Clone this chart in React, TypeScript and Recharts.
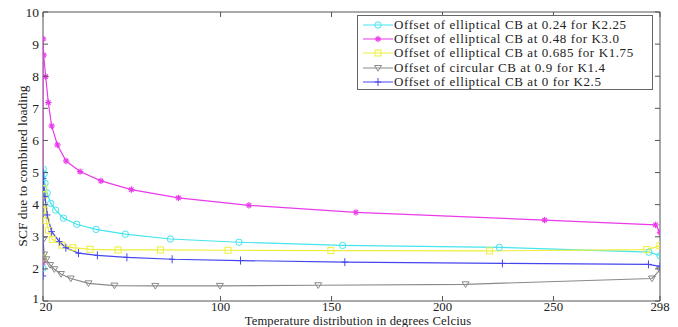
import { LineChart, Line, XAxis, YAxis, ReferenceArea } from "recharts";

const xTicks = [20, 100, 150, 200, 250, 298];
const yTicks = [1, 2, 3, 4, 5, 6, 7, 8, 9, 10];

// Offset of elliptical CB at 0.24 for K2.25
const cyanX = [20, 20.1, 20.5, 20.9, 21.9, 23.5, 25.7, 29.2, 35.2, 43.9, 57.1, 77.4, 108.3, 155, 225.6, 293, 298];
const cyanY = [2.02, 5.11, 4.96, 4.67, 4.36, 4.04, 3.83, 3.58, 3.39, 3.23, 3.08, 2.93, 2.83, 2.73, 2.67, 2.52, 2.41];

// Offset of elliptical CB at 0.48 for K3.0
const magentaX = [20, 20.05, 20.3, 21.2, 22.4, 23.9, 26.5, 30.4, 36.7, 46.1, 59.8, 81, 112.8, 161, 246, 296, 298];
const magentaY = [2.2, 9.16, 8.66, 7.99, 7.18, 6.45, 5.86, 5.36, 5.03, 4.74, 4.47, 4.21, 3.98, 3.76, 3.52, 3.37, 3.14];

// Offset of elliptical CB at 0.685 for K1.75
const yellowX = [20, 20.1, 20.3, 20.6, 21.5, 22.5, 24.2, 28.5, 33.4, 41.2, 53.8, 72.9, 103.4, 149.7, 221.2, 292, 298];
const yellowY = [2.34, 4.5, 4.3, 3.83, 3.5, 3.2, 2.92, 2.74, 2.66, 2.61, 2.59, 2.59, 2.58, 2.57, 2.56, 2.6, 2.72];

// Offset of circular CB at 0.9 for K1.4
const grayX = [20, 20.1, 20.5, 21.5, 23.2, 25.1, 28.1, 32.5, 40.5, 52.2, 70.6, 99.7, 144, 210.4, 294.4, 298];
const grayY = [2.25, 2.9, 2.45, 2.3, 2.12, 1.99, 1.84, 1.7, 1.55, 1.48, 1.47, 1.47, 1.49, 1.52, 1.7, 1.97];

// Offset of elliptical CB at 0 for K2.5
const blueX = [20, 20.05, 20.1, 20.9, 21.9, 23.9, 27.4, 30.3, 36, 44.5, 57.8, 78.2, 109, 156, 227, 292.8, 298];
const blueY = [1.78, 5.0, 4.82, 4.25, 3.68, 3.16, 2.85, 2.66, 2.49, 2.42, 2.36, 2.3, 2.26, 2.21, 2.17, 2.14, 2.08];

const toPoints = (xs: number[], ys: number[]) => xs.map((x, i) => ({ x, y: ys[i] }));

type Kind = "circle" | "star" | "square" | "tri" | "plus";

const series: { name: string; color: string; kind: Kind; data: { x: number; y: number }[] }[] = [
  { name: "Offset of elliptical CB at 0.24 for K2.25", color: "#45e4ee", kind: "circle", data: toPoints(cyanX, cyanY) },
  { name: "Offset of elliptical CB at 0.48 for K3.0", color: "#ea3aea", kind: "star", data: toPoints(magentaX, magentaY) },
  { name: "Offset of elliptical CB at 0.685 for K1.75", color: "#eeee3a", kind: "square", data: toPoints(yellowX, yellowY) },
  { name: "Offset of circular CB at 0.9 for K1.4", color: "#8a8a8a", kind: "tri", data: toPoints(grayX, grayY) },
  { name: "Offset of elliptical CB at 0 for K2.5", color: "#4646ee", kind: "plus", data: toPoints(blueX, blueY) },
];

const FONT = "'Liberation Serif', 'Times New Roman', serif";
const AXIS = "#555";
const PLOT = { left: 43, right: 660, top: 12, bottom: 301 };

function Marker({ kind, cx, cy, color }: { kind: Kind; cx: number; cy: number; color: string }) {
  const s = 3.2;
  switch (kind) {
    case "circle":
      return <circle cx={cx} cy={cy} r={3.2} fill="none" stroke={color} strokeWidth={1} />;
    case "square":
      return <rect x={cx - 3} y={cy - 3} width={6} height={6} fill="none" stroke={color} strokeWidth={1} />;
    case "tri":
      return (
        <polygon
          points={`${cx - 3.5},${cy - 2.5} ${cx + 3.5},${cy - 2.5} ${cx},${cy + 3.2}`}
          fill="none"
          stroke={color}
          strokeWidth={1}
        />
      );
    case "star":
      return (
        <g stroke={color} strokeWidth={1.2}>
          <line x1={cx - s} y1={cy} x2={cx + s} y2={cy} />
          <line x1={cx} y1={cy - s} x2={cx} y2={cy + s} />
          <line x1={cx - 2.2} y1={cy - 2.2} x2={cx + 2.2} y2={cy + 2.2} />
          <line x1={cx - 2.2} y1={cy + 2.2} x2={cx + 2.2} y2={cy - 2.2} />
        </g>
      );
    default:
      return (
        <g stroke={color} strokeWidth={1}>
          <line x1={cx - s} y1={cy} x2={cx + s} y2={cy} />
          <line x1={cx} y1={cy - 4} x2={cx} y2={cy + 4} />
        </g>
      );
  }
}

function YTick({ x, y, payload }: any) {
  return (
    <g>
      <text x={x} y={y} dy={payload.value === 1 ? 2 : 4.5} textAnchor="end" fontFamily={FONT} fontSize={13.5} fill="#222">
        {payload.value}
      </text>
      <line x1={PLOT.left} x2={PLOT.left + 5} y1={y} y2={y} stroke={AXIS} />
      <line x1={PLOT.right - 5} x2={PLOT.right} y1={y} y2={y} stroke={AXIS} />
    </g>
  );
}

function XTick({ x, y, payload }: any) {
  const shift = payload.value === 20 ? 3 : 0;
  return (
    <g>
      <text x={x + shift} y={y + 8} textAnchor="middle" fontFamily={FONT} fontSize={12.8} fill="#222">
        {payload.value}
      </text>
      <line x1={x} x2={x} y1={PLOT.bottom} y2={PLOT.bottom - 5} stroke={AXIS} />
      <line x1={x} x2={x} y1={PLOT.top} y2={PLOT.top + 5} stroke={AXIS} />
    </g>
  );
}

function LegendBox() {
  return (
    <div
      style={{
        position: "absolute",
        left: 357,
        top: 15,
        width: 296,
        height: 75,
        border: "1px solid #666",
        background: "#fff",
        boxSizing: "border-box",
        paddingTop: 2,
        fontFamily: FONT,
        fontSize: 13,
        letterSpacing: 0.6,
        color: "#222",
      }}
    >
      {series.map((s) => (
        <div key={s.name} style={{ display: "flex", alignItems: "center", height: 14.2, lineHeight: "14px", whiteSpace: "nowrap" }}>
          <svg width={36} height={12} style={{ marginLeft: 4, flex: "none" }}>
            <line x1={1} x2={31} y1={6} y2={6} stroke={s.color} strokeWidth={1} />
            <Marker kind={s.kind} cx={16} cy={6} color={s.color} />
          </svg>
          <span style={{ marginLeft: -4 }}>{s.name}</span>
        </div>
      ))}
    </div>
  );
}

export default function App() {
  return (
    <div style={{ position: "relative", width: 678, height: 327, background: "#fff" }}>
      <style>{`body{margin:0}`}</style>
      <LineChart width={678} height={327} margin={{ top: 12, right: 18, bottom: 0, left: 0 }}>
        <XAxis
          type="number"
          dataKey="x"
          domain={[20, 298]}
          ticks={xTicks}
          allowDataOverflow
          height={26}
          tickSize={0}
          tickMargin={2}
          tick={<XTick />}
          axisLine={false}
          tickLine={false}
        />
        <YAxis
          type="number"
          dataKey="y"
          domain={[1, 10]}
          ticks={yTicks}
          allowDataOverflow
          width={43}
          tickSize={0}
          tickMargin={4}
          tick={<YTick />}
          axisLine={false}
          tickLine={false}
        />
        <ReferenceArea x1={20} x2={298} y1={1} y2={10} fill="none" stroke={AXIS} strokeWidth={1} ifOverflow="extendDomain" />
        {series.map((s) => (
          <Line
            key={s.name}
            data={s.data}
            dataKey="y"
            type="linear"
            stroke={s.color}
            strokeWidth={1.2}
            isAnimationActive={false}
            dot={(p: any) => <Marker key={`${s.name}-${p.index}`} kind={s.kind} cx={p.cx} cy={p.cy} color={s.color} />}
            activeDot={false}
          />
        ))}
        <text
          x={27}
          y={166}
          transform="rotate(-90 27 166)"
          textAnchor="middle"
          fontFamily={FONT}
          fontSize={13.5}
          fill="#222"
        >
          SCF due to combined loading
        </text>
        <text x={358} y={324.5} textAnchor="middle" fontFamily={FONT} fontSize={12.6} letterSpacing={0.15} fill="#222">
          Temperature distribution in degrees Celcius
        </text>
      </LineChart>
      <LegendBox />
    </div>
  );
}
